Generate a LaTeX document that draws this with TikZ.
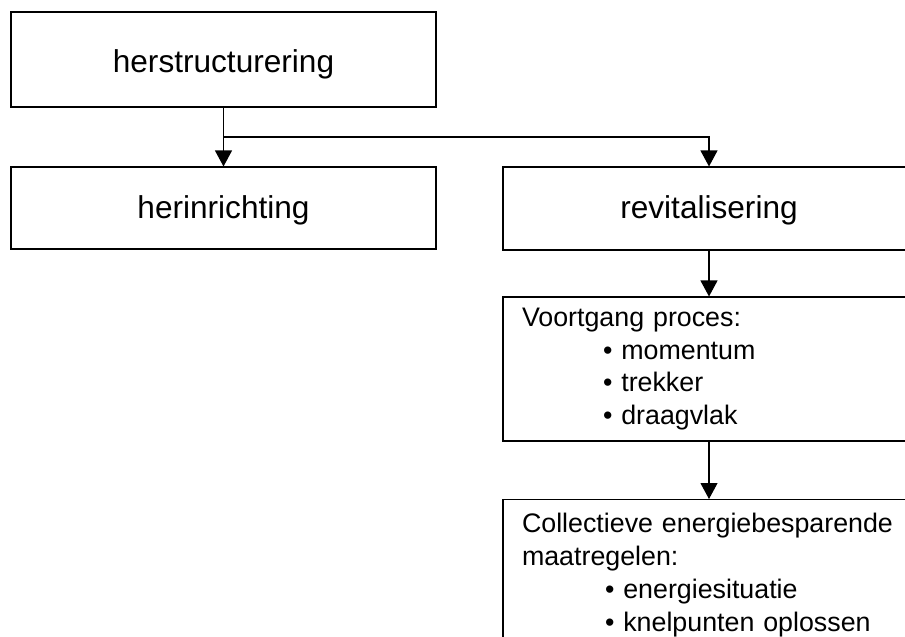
\documentclass[tikz,border=0pt]{standalone}
\usepackage{fontspec}
\setmainfont{Liberation Sans}
\usetikzlibrary{arrows.meta,calc}

\begin{document}
\begin{tikzpicture}[x=1pt,y=-1pt,line width=1.1pt,
  box/.style={draw,minimum width=425pt,inner sep=0pt,text depth=0pt,text height=20pt,
    font=\fontsize{31.6}{36}\selectfont},
  listbox/.style={draw,minimum width=412pt,text width=374pt,inner xsep=19pt,align=left,
    font=\fontsize{26.8}{32.7}\selectfont},
  arr/.style={-{Triangle[width=17pt,length=16pt]}}]
\useasboundingbox (0,0) rectangle (905,637);
\clip (0,0) rectangle (905,637);
\node[box,minimum height=95pt,text height=25pt] (herstr) at (223.5,59.5) {herstructurering};
\node[box,minimum height=82pt] (herinr) at (223.5,208) {herinrichting};
\node[box,minimum width=412pt,minimum height=83pt] (revit) at (709,208.5) {revitalisering};
\node[listbox,minimum height=144pt] (voortg) at (709,369) {Voortgang proces:\\
  \hspace*{81pt}\textbullet\ momentum\\
  \hspace*{81pt}\textbullet\ trekker\\
  \hspace*{81pt}\textbullet\ draagvlak};
\node[listbox,anchor=north,inner ysep=14pt] (collect) at (709,499) {Collectieve energiebesparende\\
  maatregelen:\\
  \hspace*{83pt}\textbullet\ energiesituatie\\
  \hspace*{83pt}\textbullet\ knelpunten oplossen};
% verbindingen
\coordinate (split) at ($(herstr.south)!0.5!(herinr.north)$);
\draw[arr] (herstr) -- (herinr);
\draw[arr] (split) -| (revit.north);
\draw[arr] (revit) -- (voortg);
\draw[arr] (voortg) -- (collect);
\end{tikzpicture}
\end{document}
